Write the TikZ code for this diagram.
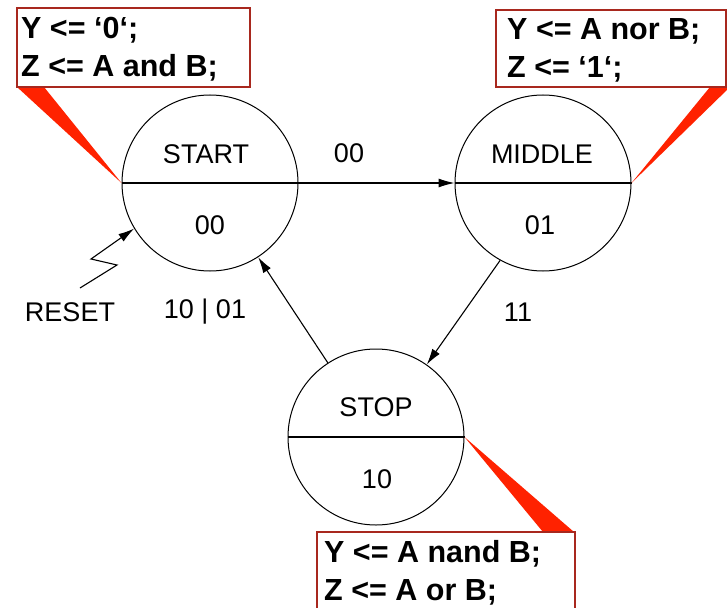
\documentclass[tikz,border=0pt]{standalone}
\usepackage{fontspec}
\setmainfont{Liberation Sans}
\usetikzlibrary{arrows.meta}
\definecolor{boxred}{HTML}{A8281E}
\definecolor{wedgered}{HTML}{FF2200}
\tikzset{
  stcircle/.style={circle, draw=black, line width=1pt, minimum size=176pt, inner sep=0pt},
  sttext/.style={inner sep=0pt, font=\fontsize{27}{30}\selectfont},
  lbl/.style={inner sep=0pt, font=\fontsize{27}{30}\selectfont},
  codebox/.style={draw=boxred, line width=1.6pt, fill=white},
  codetext/.style={inner sep=0pt, anchor=north west, align=left, font=\fontsize{30.5}{38}\selectfont\bfseries},
  wedge/.style={fill=wedgered, draw=none},
  arr/.style={line width=1.1pt, -{Latex[length=16pt,width=9pt]}},
  plain/.style={line width=1.1pt}
}
\begin{document}
\begin{tikzpicture}[x=1pt,y=-1pt]
\clip (0,0) rectangle (727,607);
\fill[white] (0,0) rectangle (727,607);

% states
\node[stcircle] (start) at (210,183) {};
\node[stcircle] (middle) at (543,183) {};
\node[stcircle] (stop) at (376,437) {};

\draw[plain] (start.west) -- (start.east);
\draw[plain] (middle.west) -- (middle.east);
\draw[plain] (stop.west) -- (stop.east);

\node[sttext] (tstart) at (206,154) {START};
\node[sttext] (cstart) at (210,225) {00};
\node[sttext] (tmid) at (542,154) {MIDDLE};
\node[sttext] (cmid) at (540,225) {01};
\node[sttext] (tstop) at (376,407) {STOP};
\node[sttext] (cstop) at (377,479) {10};

% transitions
\draw[arr] (start.east) -- (middle.west);
\draw[arr] (middle.241) -- (stop.55);
\draw[arr] (stop.123) -- (start.303);

\node[lbl] (l00) at (349,153) {00};
\node[lbl] (l11) at (518,312) {11};
\node[lbl] (l1001) at (205,312) {10 \textbar{} 01};
\node[lbl] (lreset) at (70,312) {RESET};

% reset zigzag
\coordinate (r1) at (80,288);
\coordinate (r2) at (117,265);
\coordinate (r3) at (91,259);
\draw[arr] (r1) -- (r2) -- (r3) -- (start.211);

% callout wedges
\coordinate (w1a) at (17,87);
\coordinate (w1b) at (44,87);
\fill[wedge] (w1a) -- (w1b) -- (start.west) -- cycle;
\coordinate (w2a) at (710,87);
\coordinate (w2b) at (730,87);
\fill[wedge] (w2a) -- (w2b) -- (middle.east) -- cycle;
\coordinate (w3a) at (543,532);
\coordinate (w3b) at (574,532);
\fill[wedge] (stop.east) -- (w3a) -- (w3b) -- cycle;

% code boxes
\draw[codebox] (17,8) rectangle (250,87);
\node[codetext] (code1) at (21,17) {Y <= ‘0‘;\\Z <= A and B;};
\draw[codebox] (496,10) rectangle (726,87);
\node[codetext] (code2) at (507,18) {Y <= A nor B;\\Z <= ‘1‘;};
\draw[codebox] (317,532) rectangle (575,615);
\node[codetext] (code3) at (324,540) {Y <= A nand B;\\Z <= A or B;};
\end{tikzpicture}
\end{document}
